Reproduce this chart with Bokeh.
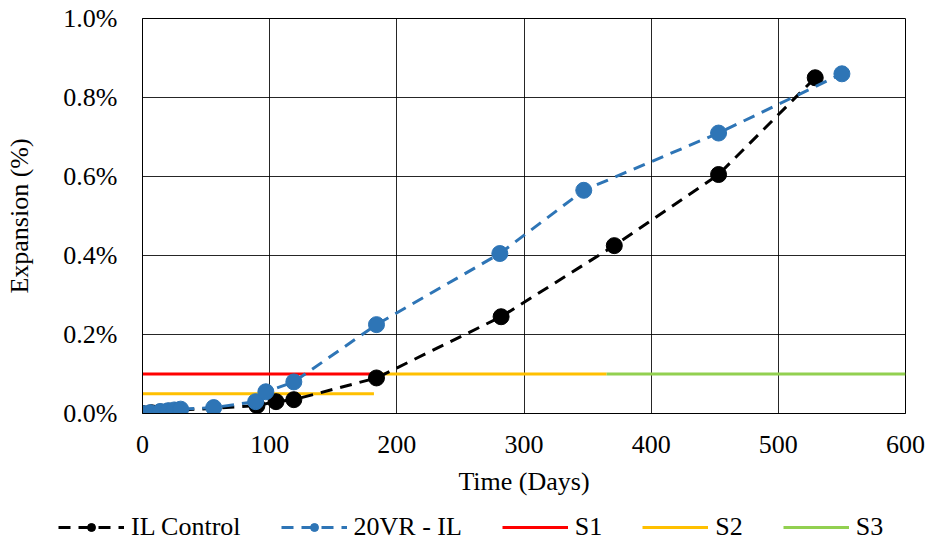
import numpy as np
from bokeh.plotting import figure
from bokeh.layouts import column, row
from bokeh.models import Legend, LegendItem, PrintfTickFormatter, FixedTicker, Range1d
from bokeh.embed import file_html
from bokeh.resources import INLINE

# Data
il_days = [0, 7, 14, 21, 28, 90, 105, 119, 184, 282, 371, 453, 529]
il_exp = [0.0, 0.002, 0.004, 0.006, 0.008, 0.02, 0.03, 0.035, 0.09, 0.245, 0.425, 0.605, 0.85]
vr_days = [0, 6, 14, 20, 25, 30, 56, 89, 97, 119, 184, 281, 347, 453, 550]
vr_exp = [0.0, 0.002, 0.005, 0.007, 0.009, 0.011, 0.015, 0.03, 0.055, 0.08, 0.225, 0.405, 0.565, 0.71, 0.86]
s1_days = [0, 184]
s1_exp = [0.1, 0.1]
s2_days = [0, 182, np.nan, 182, 365]
s2_exp = [0.05, 0.05, np.nan, 0.1, 0.1]
s3_days = [365, 600]
s3_exp = [0.1, 0.1]
x_ticks = [0, 100, 200, 300, 400, 500, 600]
y_ticks = [0.0, 0.2, 0.4, 0.6, 0.8, 1.0]

FONT = "Liberation Serif"
FS = "26px"
BLUE = "#2E75B6"
RED = "#FF0000"
YEL = "#FFC000"
GRN = "#92D050"
DASH = "12 8"

p = figure(width=930, height=500, output_backend="svg", toolbar_location=None,
           x_range=Range1d(0, 600), y_range=Range1d(0, 1.0),
           min_border_left=142, min_border_top=18, min_border_right=25, min_border_bottom=87)
p.outline_line_color = "black"
p.outline_line_width = 1

for ax in (p.xaxis[0], p.yaxis[0]):
    ax.major_label_text_font = FONT
    ax.major_label_text_font_size = FS
    ax.major_label_text_color = "black"
    ax.axis_label_text_font = FONT
    ax.axis_label_text_font_size = FS
    ax.axis_label_text_font_style = "normal"
    ax.axis_label_text_color = "black"
    ax.major_tick_line_color = None
    ax.minor_tick_line_color = None
    ax.axis_line_color = "black"

p.xaxis.ticker = FixedTicker(ticks=x_ticks)
p.yaxis.ticker = FixedTicker(ticks=y_ticks)
p.yaxis.formatter = PrintfTickFormatter(format="%.1f%%")
p.xaxis.axis_label = "Time (Days)"
p.yaxis.axis_label = "Expansion (%)"
p.xaxis.major_label_standoff = 16
p.yaxis.major_label_standoff = 19
p.xaxis.axis_label_standoff = 11
p.yaxis.axis_label_standoff = 26

p.xgrid.grid_line_color = "black"
p.ygrid.grid_line_color = "black"
p.xgrid.grid_line_alpha = 0.85
p.ygrid.grid_line_alpha = 0.85

p.line(s1_days, s1_exp, line_color=RED, line_width=3)
p.line(s2_days, s2_exp, line_color=YEL, line_width=3)
p.line(s3_days, s3_exp, line_color=GRN, line_width=3)
p.line(il_days, il_exp, line_color="black", line_width=3, line_dash=DASH)
p.scatter(il_days, il_exp, size=16, fill_color="black", line_color="black")
p.line(vr_days, vr_exp, line_color=BLUE, line_width=3, line_dash=DASH)
p.scatter(vr_days, vr_exp, size=16, fill_color=BLUE, line_color=BLUE)

# Legend strip below the chart (proxy renderers kept outside its visible range)
lf = figure(width=930, height=42, output_backend="svg", toolbar_location=None,
            x_range=Range1d(0, 1), y_range=Range1d(0, 1), min_border=0)
lf.axis.visible = False
lf.grid.visible = False
lf.outline_line_color = None
px, py = [-5, -4], [-5, -4]
r_il_l = lf.line(px, py, line_color="black", line_width=3, line_dash="12 8")
r_il_m = lf.scatter(px, py, size=16, fill_color="black", line_color="black")
r_vr_l = lf.line(px, py, line_color=BLUE, line_width=3, line_dash="12 8")
r_vr_m = lf.scatter(px, py, size=16, fill_color=BLUE, line_color=BLUE)
r_s1 = lf.line(px, py, line_color=RED, line_width=3)
r_s2 = lf.line(px, py, line_color=YEL, line_width=3)
r_s3 = lf.line(px, py, line_color=GRN, line_width=3)

legend = Legend(items=[
    LegendItem(label="IL Control", renderers=[r_il_l, r_il_m]),
    LegendItem(label="20VR - IL", renderers=[r_vr_l, r_vr_m]),
    LegendItem(label="S1", renderers=[r_s1]),
    LegendItem(label="S2", renderers=[r_s2]),
    LegendItem(label="S3", renderers=[r_s3]),
], orientation="horizontal", location=(58, 0),
    label_text_font=FONT, label_text_font_size=FS, label_text_color="black",
    border_line_color=None, background_fill_alpha=0, spacing=40, glyph_width=66,
    margin=0, padding=2, label_standoff=7)
lf.add_layout(legend, "center")

open("out.html", "w").write(file_html(column(p, row(lf), spacing=0), INLINE))
